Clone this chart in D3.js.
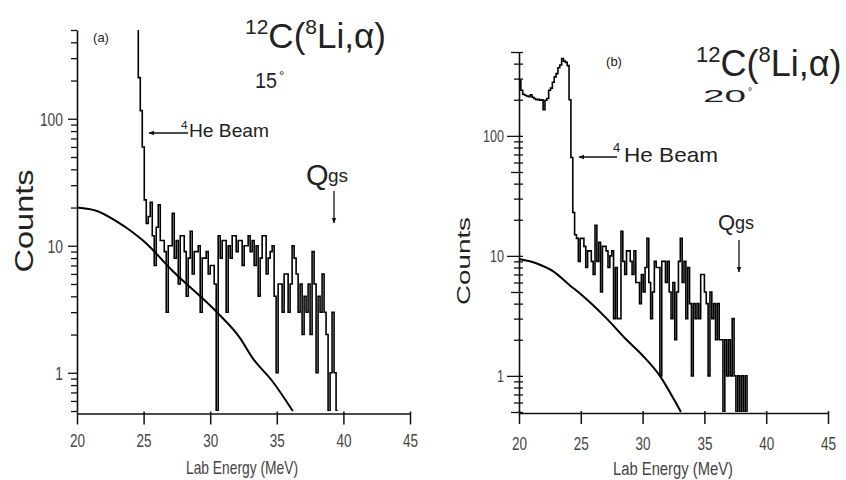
<!DOCTYPE html>
<html>
<head>
<meta charset="utf-8">
<script src="https://cdn.jsdelivr.net/npm/d3@7"></script>
<style>
  body { margin: 0; background: #fff; }
  svg text { font-family: "Liberation Sans", Arial, sans-serif; }
</style>
</head>
<body>
<svg id="chart" width="846" height="480"></svg>
<script>
'use strict';

// shared axis data
const X_TICKS = [20, 25, 30, 35, 40, 45];
const Y_LABELS = { 1: '1', 10: '10', 100: '100' };
const BIN_W = 0.15;  // MeV

// (a) 15 deg : histogram bins start at A_START, width BIN_W
const A_START = 24.45;
const A_COUNTS = [1000, 211, 116, 60, 23,
  15, 17, 22, 12, 7, 14, 21, 11, 11, 9,
  3, 10, 10, 18, 8, 11, 5, 12, 12, 9,
  4, 8, 13, 6, 9, 9, 10, 3, 8, 8,
  9, 6, 7, 7, 5, 0, 12, 8, 11, 11,
  3, 10, 8, 12, 12, 9, 11, 11, 7, 10,
  10, 12, 9, 11, 7, 10, 4, 8, 12, 12,
  6, 8, 9, 10, 4, 1, 5, 5, 3, 6,
  6, 3, 5, 10, 8, 6, 3, 5, 2, 4,
  3, 5, 2, 9, 5, 1, 4, 3, 6, 3,
  2, 0, 1, 3, 1, 0];
const A_BG = [[20, 20], [21.5, 18.8], [23, 15.5], [24, 13.2], [25, 10.9], [27.2, 6.3],
  [30.5, 3.0], [32.2, 1.9], [33.2, 1.3], [34.7, 0.85], [36.2, 0.5]];

// (b) 20 deg
const B_START = 20.0;
const B_COUNTS = [290, 240, 222, 218, 215, 212, 220, 210, 205, 200, 202, 198, 200, 165, 198,
  205, 240, 250, 280, 310, 330, 370, 390, 440, 420, 410, 385, 200, 66, 23,
  15,
  14, 9, 14, 14, 12, 8, 11, 11, 9, 7,
  18, 9, 13, 5, 12, 12, 11, 8, 10, 11,
  3, 8, 3, 3, 16, 9, 7, 11, 11, 9,
  7, 11, 6, 6, 4, 7, 5, 8, 14, 6,
  3, 5, 9, 8, 8, 1, 9, 9, 6, 9,
  5, 3, 6, 2, 5, 9, 14, 6, 9, 3,
  8, 4, 1, 4, 3, 4, 3, 7, 7, 5,
  4, 1, 5, 3, 4, 2, 4, 2, 2, 0,
  2, 1, 2, 1, 3, 1, 0, 1, 0, 1,
  0, 1];
const B_BG = [[20, 9.4], [21.5, 8.6], [22.8, 7.4], [24.1, 5.7], [25.1, 4.7], [27.1, 3.0],
  [28.7, 2.0], [30, 1.48], [31.4, 1.0], [32.6, 0.62], [33.1, 0.5]];

const svg = d3.select('#chart');

svg.append('defs').append('marker')
  .attr('id', 'head')
  .attr('viewBox', '0 0 10 10')
  .attr('refX', 9).attr('refY', 5)
  .attr('markerWidth', 6).attr('markerHeight', 6)
  .attr('markerUnits', 'userSpaceOnUse')
  .attr('orient', 'auto')
  .append('path')
  .attr('d', 'M0,1 L10,5 L0,9 Z')
  .attr('fill', '#111');

const panels = [
  {
    id: 'a', start: A_START, counts: A_COUNTS, bg: A_BG,
    x0: 77, x1: 410, yTop: 30, yBot: 411, xAxisY: 413.5,
    yTickIn: 0, yTickMajor: 9, yTickMinor: 6, xTickLabelY: 447,
    yLabFont: 18, yLabRight: 63,
    tag: { x: 101, y: 42 },
    title: { x: 245, y: 48, size: 35 },
    angle: { text: '15', x: 255, y: 88, size: 22, len: 22, degX: 279, degY: 80 },
    beam: { ax0: 188, ax1: 149, ay: 133, sx: 181, sy: 129, tx: 189, ty: 137, size: 19, len: 80 },
    q: { qx: 306, qy: 185, qsize: 29, gx: 328, gy: 182, gsize: 19, ax: 334, ay0: 191, ay1: 223 },
    counts_lab: { x: 33, y: 221, size: 25, len: 103 },
    xlab: { x: 242, y: 474, size: 19, len: 112 },
  },
  {
    id: 'b', start: B_START, counts: B_COUNTS, bg: B_BG,
    x0: 519, x1: 828, yTop: 52, yBot: 412, xAxisY: 413,
    yTickIn: 4, yTickMajor: 12, yTickMinor: 5, xTickLabelY: 450,
    yLabFont: 16, yLabRight: 504,
    tag: { x: 614, y: 66 },
    title: { x: 696, y: 76, size: 36 },
    angle: { text: '20', x: 703, y: 102, size: 17, len: 43, degX: 748, degY: 95 },
    beam: { ax0: 617, ax1: 579, ay: 157, sx: 613, sy: 152, tx: 624, ty: 162, size: 21, len: 94 },
    q: { qx: 718, qy: 230, qsize: 22, gx: 735, gy: 229, gsize: 18, ax: 739, ay0: 240, ay1: 272 },
    counts_lab: { x: 470, y: 261, size: 19, len: 88 },
    xlab: { x: 673, y: 475, size: 18, len: 120 },
  },
];

function minorTicks() {
  const v = [];
  for (let k = -1; k <= 2; ++k) {
    for (let m = 1; m <= 9; ++m) {
      const t = m * Math.pow(10, k);
      if (t >= 0.5 - 1e-9 && t <= 500 + 1e-9) v.push(+t.toPrecision(3));
    }
  }
  return v;
}

function drawPanel(p) {
  const x = d3.scaleLinear().domain([20, 45]).range([p.x0, p.x1]);
  const y = d3.scaleLog().domain([0.5, 500]).range([p.yBot, p.yTop]);
  const g = svg.append('g').attr('class', 'panel-' + p.id);

  // clip for the data
  g.append('clipPath').attr('id', 'clip-' + p.id)
    .append('rect')
    .attr('x', p.x0).attr('y', p.yTop)
    .attr('width', p.x1 - p.x0).attr('height', p.yBot - p.yTop);

  // x axis
  const xAxis = d3.axisBottom(x).tickValues(X_TICKS).tickSize(11).tickSizeOuter(0).tickPadding(0)
    .tickFormat(d3.format('d'));
  const gx = g.append('g').attr('transform', `translate(0,${p.xAxisY})`).call(xAxis);
  gx.select('.domain').attr('stroke', '#111').attr('stroke-width', 1.6);
  gx.selectAll('.tick line').attr('stroke', '#111').attr('stroke-width', 1.5).attr('y1', -2);
  gx.selectAll('.tick text').remove();
  gx.selectAll('.tick').append('text')
    .attr('y', p.xTickLabelY - p.xAxisY)
    .attr('text-anchor', 'middle')
    .attr('fill', '#444')
    .attr('font-size', 18)
    .attr('textLength', 15).attr('lengthAdjust', 'spacingAndGlyphs')
    .text((d) => d);

  // y axis (log)
  const yAxis = d3.axisLeft(y).tickValues(minorTicks()).tickSizeOuter(0).tickSize(0).tickFormat('');
  const gy = g.append('g').attr('transform', `translate(${p.x0},0)`).call(yAxis);
  gy.select('.domain').attr('stroke', '#111').attr('stroke-width', 1.6);
  gy.selectAll('.tick line')
    .attr('stroke', '#111').attr('stroke-width', 1.3)
    .attr('x1', p.yTickIn)
    .attr('x2', (d) => {
      const lg = Math.log10(d);
      if (Math.abs(lg - Math.round(lg)) < 1e-6) return -p.yTickMajor;
      if (p.id === 'b' && Math.abs(lg - Math.round(lg - 0.69897) - 0.69897) < 1e-6) return -8;
      return -p.yTickMinor;
    });
  gy.selectAll('.tick')
    .filter((d) => Y_LABELS[d] !== undefined)
    .append('text')
    .attr('x', p.yLabRight - p.x0)
    .attr('dy', p.yLabFont * 0.36)
    .attr('text-anchor', 'end')
    .attr('fill', '#444')
    .attr('font-size', p.yLabFont)
    .attr('textLength', (d) => Y_LABELS[d].length * (p.id === 'a' ? 7.7 : 7))
    .attr('lengthAdjust', 'spacingAndGlyphs')
    .text((d) => Y_LABELS[d]);

  // histogram
  const pts = p.counts.map((c, i) => [p.start + i * BIN_W, Math.max(c, 0.5)]);
  pts.push([p.start + p.counts.length * BIN_W, 0.5]);
  const step = d3.line()
    .x((d) => x(d[0]))
    .y((d) => y(d[1]))
    .curve(d3.curveStepAfter);
  g.append('path')
    .attr('clip-path', `url(#clip-${p.id})`)
    .attr('d', step(pts))
    .attr('fill', 'none')
    .attr('stroke', '#000')
    .attr('stroke-width', 1.6);

  // background curve
  const smooth = d3.line()
    .x((d) => x(d[0]))
    .y((d) => y(d[1]))
    .curve(d3.curveMonotoneX);
  g.append('path')
    .attr('d', smooth(p.bg))
    .attr('fill', 'none')
    .attr('stroke', '#000')
    .attr('stroke-width', 2);

  // labels
  g.append('text')
    .attr('x', p.tag.x).attr('y', p.tag.y)
    .attr('text-anchor', 'middle').attr('font-size', 13).attr('fill', '#222')
    .text(`(${p.id})`);

  const t = g.append('text')
    .attr('x', p.title.x).attr('y', p.title.y)
    .attr('fill', '#222').attr('font-size', p.title.size);
  const sup = Math.round(p.title.size * 0.6);
  const rise = Math.round(p.title.size * 0.4);
  t.append('tspan').attr('font-size', sup).attr('dy', -rise).text('12');
  t.append('tspan').attr('dy', rise).text('C(');
  t.append('tspan').attr('font-size', sup).attr('dy', -rise).text('8');
  t.append('tspan').attr('dy', rise).text('Li,α)');

  g.append('text')
    .attr('x', p.angle.x).attr('y', p.angle.y)
    .attr('fill', '#222').attr('font-size', p.angle.size)
    .attr('textLength', p.angle.len).attr('lengthAdjust', 'spacingAndGlyphs')
    .text(p.angle.text);
  g.append('text')
    .attr('x', p.angle.degX).attr('y', p.angle.degY)
    .attr('fill', '#222').attr('font-size', p.angle.size * 0.6)
    .text('°');

  // 4He beam arrow
  g.append('line')
    .attr('x1', p.beam.ax0).attr('y1', p.beam.ay)
    .attr('x2', p.beam.ax1).attr('y2', p.beam.ay)
    .attr('stroke', '#111').attr('stroke-width', 1.3)
    .attr('marker-end', 'url(#head)');
  g.append('text')
    .attr('x', p.beam.sx).attr('y', p.beam.sy)
    .attr('fill', '#222').attr('font-size', p.beam.size * 0.62)
    .text('4');
  g.append('text')
    .attr('x', p.beam.tx).attr('y', p.beam.ty)
    .attr('fill', '#222').attr('font-size', p.beam.size)
    .attr('textLength', p.beam.len).attr('lengthAdjust', 'spacingAndGlyphs')
    .text('He Beam');

  // Q ground state
  g.append('text')
    .attr('x', p.q.qx).attr('y', p.q.qy)
    .attr('fill', '#222').attr('font-size', p.q.qsize)
    .text('Q');
  g.append('text')
    .attr('x', p.q.gx).attr('y', p.q.gy)
    .attr('fill', '#222').attr('font-size', p.q.gsize)
    .text('gs');
  g.append('line')
    .attr('x1', p.q.ax).attr('y1', p.q.ay0)
    .attr('x2', p.q.ax).attr('y2', p.q.ay1)
    .attr('stroke', '#111').attr('stroke-width', 1.3)
    .attr('marker-end', 'url(#head)');

  // axis titles
  g.append('text')
    .attr('transform', `translate(${p.counts_lab.x},${p.counts_lab.y}) rotate(-90)`)
    .attr('text-anchor', 'middle')
    .attr('fill', '#222').attr('font-size', p.counts_lab.size)
    .attr('textLength', p.counts_lab.len).attr('lengthAdjust', 'spacingAndGlyphs')
    .text('Counts');
  g.append('text')
    .attr('x', p.xlab.x).attr('y', p.xlab.y)
    .attr('text-anchor', 'middle')
    .attr('fill', '#444').attr('font-size', p.xlab.size)
    .attr('textLength', p.xlab.len).attr('lengthAdjust', 'spacingAndGlyphs')
    .text('Lab Energy (MeV)');
}

panels.forEach(drawPanel);
</script>
</body>
</html>
